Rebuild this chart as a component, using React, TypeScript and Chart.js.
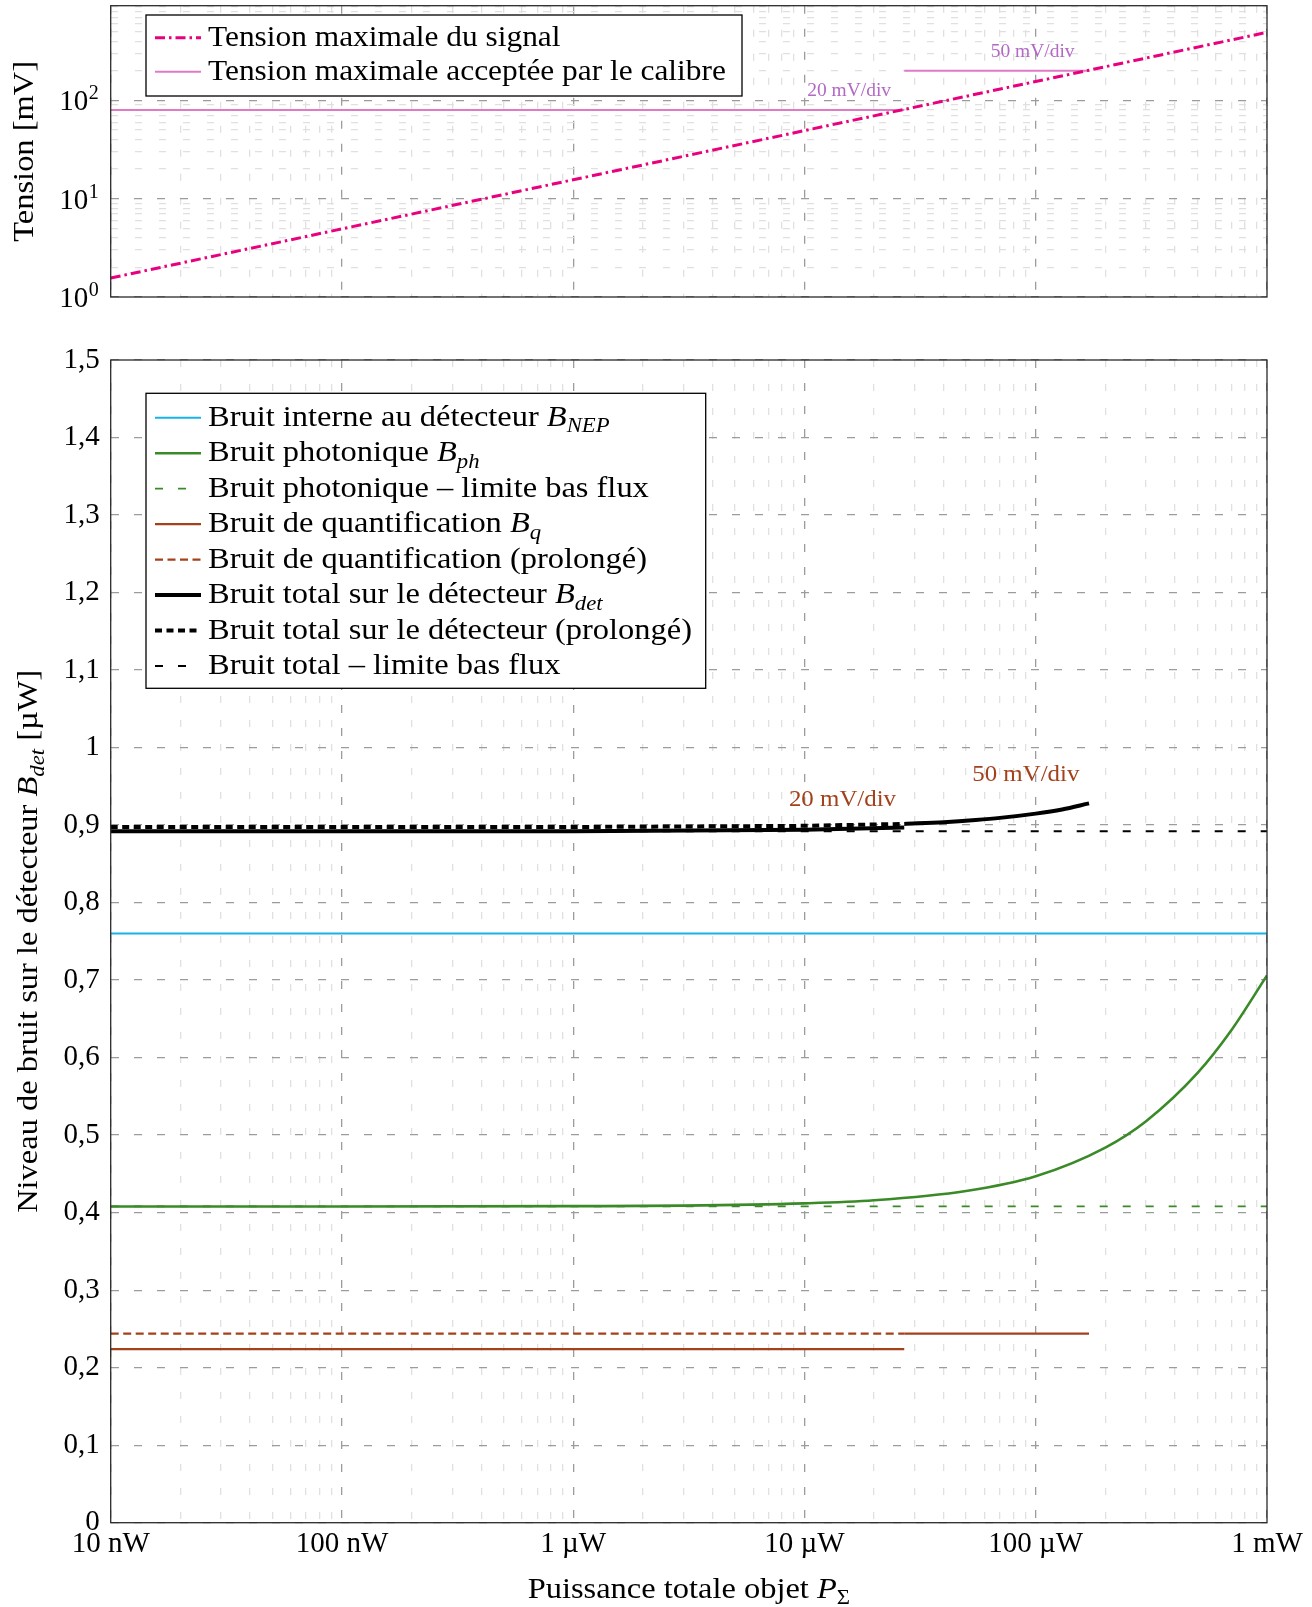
import React, { useEffect, useRef } from 'react';
import { Chart, registerables } from 'chart.js';

Chart.register(...registerables);

const FONT = '"Liberation Serif", "Times New Roman", serif';

// ---------- shared x axis (power, W)
const xMin = 1e-8;
const xMax = 1e-3;
const xDecades = [1e-8, 1e-7, 1e-6, 1e-5, 1e-4, 1e-3];
const xTickLabels = ['10 nW', '100 nW', '1 µW', '10 µW', '100 µW', '1 mW'];

// ---------- top chart (mV)
const yTopMin = 1;
const yTopMax = 920;
const yTopDecades = [1, 10, 100];
const yTopExponents = ['0', '1', '2'];
const signalP = [1e-8, 2.7e-5, 1.7e-4, 1e-3];
const signalV = [1.56, 81, 203, 493];
const cal20P = [1e-8, 2.7e-5];
const cal20V = [80, 80];
const cal50P = [2.7e-5, 1.7e-4];
const cal50V = [200, 200];
const topNoteTexts = ['20 mV/div', '50 mV/div'];
const topNoteP = [1.56e-5, 9.7e-5];
const topNoteV = [128, 318];

// ---------- bottom chart (µW)
const yBotMin = 0;
const yBotMax = 1.5;
const yBotStep = 0.1;
const nepP = [1e-8, 1e-3];
const nepV = [0.76, 0.76];
const phP = [1e-8, 1e-7, 1e-6, 3e-6, 1e-5, 2e-5, 5e-5, 1e-4, 2e-4, 3e-4, 5e-4, 7e-4, 1e-3];
const phV = [0.408, 0.408, 0.4084, 0.409, 0.412, 0.416, 0.428, 0.447, 0.484, 0.518, 0.58, 0.635, 0.706];
const phLowP = [1e-8, 1e-3];
const phLowV = [0.408, 0.408];
const q20P = [1e-8, 2.7e-5];
const q20V = [0.224, 0.224];
const q50P = [2.7e-5, 1.7e-4];
const q50V = [0.244, 0.244];
const qExtP = [1e-8, 2.7e-5];
const qExtV = [0.244, 0.244];
const det20P = [1e-8, 1e-6, 1e-5, 2.7e-5];
const det20V = [0.892, 0.892, 0.894, 0.897];
const det50P = [2.7e-5, 4e-5, 5.5e-5, 7e-5, 1e-4, 1.3e-4, 1.7e-4];
const det50V = [0.9015, 0.9038, 0.9066, 0.9093, 0.9148, 0.9202, 0.928];
const detExtP = [1e-8, 1e-6, 1e-5, 2.7e-5];
const detExtV = [0.8975, 0.8975, 0.899, 0.9015];
const detLowP = [1e-8, 1e-3];
const detLowV = [0.892, 0.892];
const botNoteTexts = ['20 mV/div', '50 mV/div'];
const botNoteP = [1.46e-5, 9.06e-5];
const botNoteV = [0.935, 0.967];

// ---------- styles
const MAGENTA = '#e8007e';
const CALIBRE = '#e07ac6';
const CAL_TEXT = '#b368c6';
const CYAN = '#17b2e8';
const GREEN = '#3a8a28';
const BROWN = '#a3411b';
const BLACK = '#000000';
const GRID_MAJOR = '#9c9c9c';
const GRID_MINOR = '#e0e0e0';

const TOP_H = 320;
const BOT_H = 1607 - TOP_H;
const PLOT_LEFT = 110.7;
const PLOT_RIGHT_PAD = 1312 - 1267;

type Seg = { t: string; it?: boolean; sub?: boolean };

const pts = (xs: number[], ys: number[]) => xs.map((x, i) => ({ x, y: ys[i] }));

function logTicks(min: number, max: number) {
  const out: { value: number; major: boolean }[] = [];
  const e0 = Math.floor(Math.log10(min));
  const e1 = Math.ceil(Math.log10(max));
  for (let e = e0; e <= e1; e++) {
    for (let k = 1; k <= 9; k++) {
      const v = Number((k * Math.pow(10, e)).toPrecision(6));
      if (v >= min * (1 - 1e-9) && v <= max * (1 + 1e-9)) out.push({ value: v, major: k === 1 });
    }
  }
  return out;
}

function segFont(s: Seg, size: number) {
  return `${s.it ? 'italic ' : ''}${s.sub ? Math.round(size * 0.7) : size}px ${FONT}`;
}

function richWidth(ctx: CanvasRenderingContext2D, segs: Seg[], size: number) {
  let w = 0;
  for (const s of segs) {
    ctx.font = segFont(s, size);
    w += ctx.measureText(s.t).width;
  }
  return w;
}

function drawRich(
  ctx: CanvasRenderingContext2D,
  segs: Seg[],
  x: number,
  y: number,
  size: number,
  align: 'left' | 'center',
  stretch: number,
  color: string,
  rotate = 0
) {
  const w = richWidth(ctx, segs, size);
  ctx.save();
  ctx.translate(x, y);
  if (rotate) ctx.rotate(rotate);
  ctx.scale(stretch, 1);
  ctx.fillStyle = color;
  ctx.textBaseline = 'alphabetic';
  ctx.textAlign = 'left';
  let cx = align === 'center' ? -w / 2 : 0;
  for (const s of segs) {
    ctx.font = segFont(s, size);
    ctx.fillText(s.t, cx, s.sub ? size * 0.22 : 0);
    cx += ctx.measureText(s.t).width;
  }
  ctx.restore();
}

function getStretch(ctx: CanvasRenderingContext2D) {
  ctx.save();
  ctx.font = `30px ${FONT}`;
  const w = ctx.measureText('Bruit total sur le détecteur (prolongé)').width;
  ctx.restore();
  return 484 / w;
}

type Decor = {
  legend?: { dx: number; dy: number; w: number; h: number; row0: number; rowGap: number; size: number; items: { ds: number; segs: Seg[] }[] };
  notes?: { texts: string[]; xs: number[]; ys: number[]; color: string; size: number };
  yTitle?: { segs: Seg[]; x: number };
  xTitle?: { segs: Seg[]; dy: number };
  pow?: { values: number[]; exps: string[] };
};

function makeDecor(d: Decor) {
  return {
    id: 'decor',
    afterDraw(chart: any) {
      const ctx: CanvasRenderingContext2D = chart.ctx;
      const a = chart.chartArea;
      const st = getStretch(ctx);
      const xs = chart.scales.x;
      const ys = chart.scales.y;

      // frame
      ctx.save();
      ctx.strokeStyle = '#2a2a2a';
      ctx.lineWidth = 1.3;
      ctx.setLineDash([]);
      ctx.strokeRect(a.left, a.top, a.right - a.left, a.bottom - a.top);
      ctx.restore();

      // power-of-ten tick labels
      if (d.pow) {
        d.pow.values.forEach((v, i) => {
          const y = ys.getPixelForValue(v);
          ctx.save();
          ctx.fillStyle = '#000';
          ctx.textBaseline = 'alphabetic';
          ctx.textAlign = 'right';
          ctx.font = `20px ${FONT}`;
          const supW = ctx.measureText(d.pow!.exps[i]).width;
          const right = a.left - 12;
          ctx.fillText(d.pow!.exps[i], right, y - 1);
          ctx.font = `29px ${FONT}`;
          ctx.fillText('10', right - supW - 0.5, y + 10);
          ctx.restore();
        });
      }

      // notes
      if (d.notes) {
        d.notes.texts.forEach((t, i) => {
          const px = xs.getPixelForValue(d.notes!.xs[i]);
          const py = ys.getPixelForValue(d.notes!.ys[i]);
          drawRich(ctx, [{ t }], px, py + d.notes!.size * 0.33, d.notes!.size, 'center', st, d.notes!.color);
        });
      }

      // legend
      if (d.legend) {
        const L = d.legend;
        const bx = a.left + L.dx;
        const by = a.top + L.dy;
        ctx.save();
        ctx.fillStyle = '#fff';
        ctx.fillRect(bx, by, L.w, L.h);
        ctx.strokeStyle = '#000';
        ctx.lineWidth = 1.3;
        ctx.setLineDash([]);
        ctx.strokeRect(bx, by, L.w, L.h);
        ctx.restore();
        L.items.forEach((it, i) => {
          const ds = chart.data.datasets[it.ds];
          const ry = by + L.row0 + i * L.rowGap;
          ctx.save();
          ctx.strokeStyle = ds.borderColor;
          ctx.lineWidth = ds.borderWidth;
          ctx.setLineDash(ds.borderDash || []);
          ctx.beginPath();
          ctx.moveTo(bx + 9, ry);
          ctx.lineTo(bx + 55, ry);
          ctx.stroke();
          ctx.restore();
          drawRich(ctx, it.segs, bx + 62, ry + 8, L.size, 'left', st, '#000');
        });
      }

      if (d.yTitle) {
        drawRich(ctx, d.yTitle.segs, d.yTitle.x, (a.top + a.bottom) / 2, 30, 'center', st, '#000', -Math.PI / 2);
      }
      if (d.xTitle) {
        drawRich(ctx, d.xTitle.segs, (a.left + a.right) / 2, a.bottom + d.xTitle.dy, 30, 'center', st, '#000');
      }
    },
  };
}

const logGrid = {
  color: (c: any) => (c.tick && c.tick.major ? GRID_MAJOR : GRID_MINOR),
  lineWidth: 1.3,
  drawTicks: false,
};
const logBorder = {
  display: false,
  dash: (c: any) => (c.tick && c.tick.major ? [8, 15] : [7, 17]),
};

const lineDefaults = { pointRadius: 0, fill: false, tension: 0, borderJoinStyle: 'round' as const };

function topConfig(): any {
  return {
    type: 'line',
    data: {
      datasets: [
        { ...lineDefaults, label: 'signal', data: pts(signalP, signalV), borderColor: MAGENTA, borderWidth: 3, borderDash: [10, 4, 2.5, 4] },
        { ...lineDefaults, label: 'cal20', data: pts(cal20P, cal20V), borderColor: CALIBRE, borderWidth: 2 },
        { ...lineDefaults, label: 'cal50', data: pts(cal50P, cal50V), borderColor: CALIBRE, borderWidth: 2 },
      ],
    },
    options: {
      responsive: false,
      animation: false,
      events: [],
      layout: { padding: { left: 0, top: 5.7, right: PLOT_RIGHT_PAD, bottom: 0 } },
      plugins: { legend: { display: false }, tooltip: { enabled: false } },
      scales: {
        x: {
          type: 'logarithmic',
          min: xMin,
          max: xMax,
          afterBuildTicks: (s: any) => { s.ticks = logTicks(xMin, xMax); },
          ticks: { display: false, autoSkip: false },
          grid: logGrid,
          border: logBorder,
          afterFit: (s: any) => { s.height = TOP_H - 297; s.paddingLeft = 0; s.paddingRight = 0; },
        },
        y: {
          type: 'logarithmic',
          min: yTopMin,
          max: yTopMax,
          afterBuildTicks: (s: any) => { s.ticks = logTicks(yTopMin, yTopMax); },
          ticks: { display: false, autoSkip: false },
          grid: logGrid,
          border: logBorder,
          afterFit: (s: any) => { s.width = PLOT_LEFT; s.paddingTop = 0; s.paddingBottom = 0; },
        },
      },
    },
    plugins: [
      makeDecor({
        pow: { values: yTopDecades, exps: yTopExponents },
        notes: { texts: topNoteTexts, xs: topNoteP, ys: topNoteV, color: CAL_TEXT, size: 18 },
        legend: {
          dx: 35.3, dy: 9.3, w: 596, h: 81, row0: 22.7, rowGap: 34, size: 29,
          items: [
            { ds: 0, segs: [{ t: 'Tension maximale du signal' }] },
            { ds: 1, segs: [{ t: 'Tension maximale acceptée par le calibre' }] },
          ],
        },
        yTitle: { segs: [{ t: 'Tension [mV]' }], x: 33 },
      }),
    ],
  };
}

function bottomConfig(): any {
  return {
    type: 'line',
    data: {
      datasets: [
        { ...lineDefaults, label: 'nep', data: pts(nepP, nepV), borderColor: CYAN, borderWidth: 2 },
        { ...lineDefaults, label: 'ph', data: pts(phP, phV), borderColor: GREEN, borderWidth: 2.6, cubicInterpolationMode: 'monotone' },
        { ...lineDefaults, label: 'phLow', data: pts(phLowP, phLowV), borderColor: GREEN, borderWidth: 1.8, borderDash: [8, 15] },
        { ...lineDefaults, label: 'q20', data: pts(q20P, q20V), borderColor: BROWN, borderWidth: 2.2 },
        { ...lineDefaults, label: 'qExt', data: pts(qExtP, qExtV), borderColor: BROWN, borderWidth: 2.2, borderDash: [8, 4.5] },
        { ...lineDefaults, label: 'det20', data: pts(det20P, det20V), borderColor: BLACK, borderWidth: 4 },
        { ...lineDefaults, label: 'detExt', data: pts(detExtP, detExtV), borderColor: BLACK, borderWidth: 4, borderDash: [7, 4.5] },
        { ...lineDefaults, label: 'detLow', data: pts(detLowP, detLowV), borderColor: BLACK, borderWidth: 2, borderDash: [8, 15] },
        { ...lineDefaults, label: 'q50', data: pts(q50P, q50V), borderColor: BROWN, borderWidth: 2.2 },
        { ...lineDefaults, label: 'det50', data: pts(det50P, det50V), borderColor: BLACK, borderWidth: 4, cubicInterpolationMode: 'monotone' },
      ],
    },
    options: {
      responsive: false,
      animation: false,
      events: [],
      layout: { padding: { left: 0, top: 40, right: PLOT_RIGHT_PAD, bottom: 0 } },
      plugins: { legend: { display: false }, tooltip: { enabled: false } },
      scales: {
        x: {
          type: 'logarithmic',
          min: xMin,
          max: xMax,
          afterBuildTicks: (s: any) => { s.ticks = logTicks(xMin, xMax); },
          ticks: {
            autoSkip: false,
            maxRotation: 0,
            padding: 4,
            color: '#000',
            font: { family: FONT, size: 29 },
            callback: (v: number) => {
              const i = xDecades.findIndex((d) => Math.abs(Math.log10(d) - Math.log10(v)) < 1e-6);
              return i >= 0 ? xTickLabels[i] : '';
            },
          },
          grid: logGrid,
          border: logBorder,
          afterFit: (s: any) => { s.height = BOT_H - (1522.7 - TOP_H); s.paddingLeft = 0; s.paddingRight = 0; },
        },
        y: {
          type: 'linear',
          min: yBotMin,
          max: yBotMax,
          ticks: {
            stepSize: yBotStep,
            padding: 11,
            color: '#000',
            font: { family: FONT, size: 29 },
            callback: (v: number) => {
              const r = Math.round(v * 10) / 10;
              return Number.isInteger(r) ? String(r) : r.toFixed(1).replace('.', ',');
            },
          },
          grid: { color: GRID_MAJOR, lineWidth: 1.3, drawTicks: false },
          border: { display: false, dash: [8, 15] },
          afterFit: (s: any) => { s.width = PLOT_LEFT; s.paddingTop = 0; s.paddingBottom = 0; },
        },
      },
    },
    plugins: [
      makeDecor({
        notes: { texts: botNoteTexts, xs: botNoteP, ys: botNoteV, color: BROWN, size: 23 },
        legend: {
          dx: 35.3, dy: 33.3, w: 559.7, h: 295, row0: 24.5, rowGap: 35.45, size: 30,
          items: [
            { ds: 0, segs: [{ t: 'Bruit interne au détecteur ' }, { t: 'B', it: true }, { t: 'NEP', it: true, sub: true }] },
            { ds: 1, segs: [{ t: 'Bruit photonique ' }, { t: 'B', it: true }, { t: 'ph', it: true, sub: true }] },
            { ds: 2, segs: [{ t: 'Bruit photonique – limite bas flux' }] },
            { ds: 3, segs: [{ t: 'Bruit de quantification ' }, { t: 'B', it: true }, { t: 'q', it: true, sub: true }] },
            { ds: 4, segs: [{ t: 'Bruit de quantification (prolongé)' }] },
            { ds: 5, segs: [{ t: 'Bruit total sur le détecteur ' }, { t: 'B', it: true }, { t: 'det', it: true, sub: true }] },
            { ds: 6, segs: [{ t: 'Bruit total sur le détecteur (prolongé)' }] },
            { ds: 7, segs: [{ t: 'Bruit total – limite bas flux' }] },
          ],
        },
        yTitle: { segs: [{ t: 'Niveau de bruit sur le détecteur ' }, { t: 'B', it: true }, { t: 'det', it: true, sub: true }, { t: ' [µW]' }], x: 37 },
        xTitle: { segs: [{ t: 'Puissance totale objet ' }, { t: 'P', it: true }, { t: 'Σ', sub: true }], dy: 75 },
      }),
    ],
  };
}

export default function App() {
  const topRef = useRef<HTMLCanvasElement>(null);
  const botRef = useRef<HTMLCanvasElement>(null);
  useEffect(() => {
    const c1 = new Chart(topRef.current as HTMLCanvasElement, topConfig());
    const c2 = new Chart(botRef.current as HTMLCanvasElement, bottomConfig());
    return () => {
      c1.destroy();
      c2.destroy();
    };
  }, []);
  return (
    <div style={{ position: 'absolute', left: 0, top: 0, width: 1312, height: 1607, background: '#fff' }}>
      <canvas ref={topRef} width={1312} height={TOP_H} style={{ position: 'absolute', left: 0, top: 0, width: 1312, height: TOP_H }} />
      <canvas ref={botRef} width={1312} height={BOT_H} style={{ position: 'absolute', left: 0, top: TOP_H, width: 1312, height: BOT_H }} />
    </div>
  );
}
